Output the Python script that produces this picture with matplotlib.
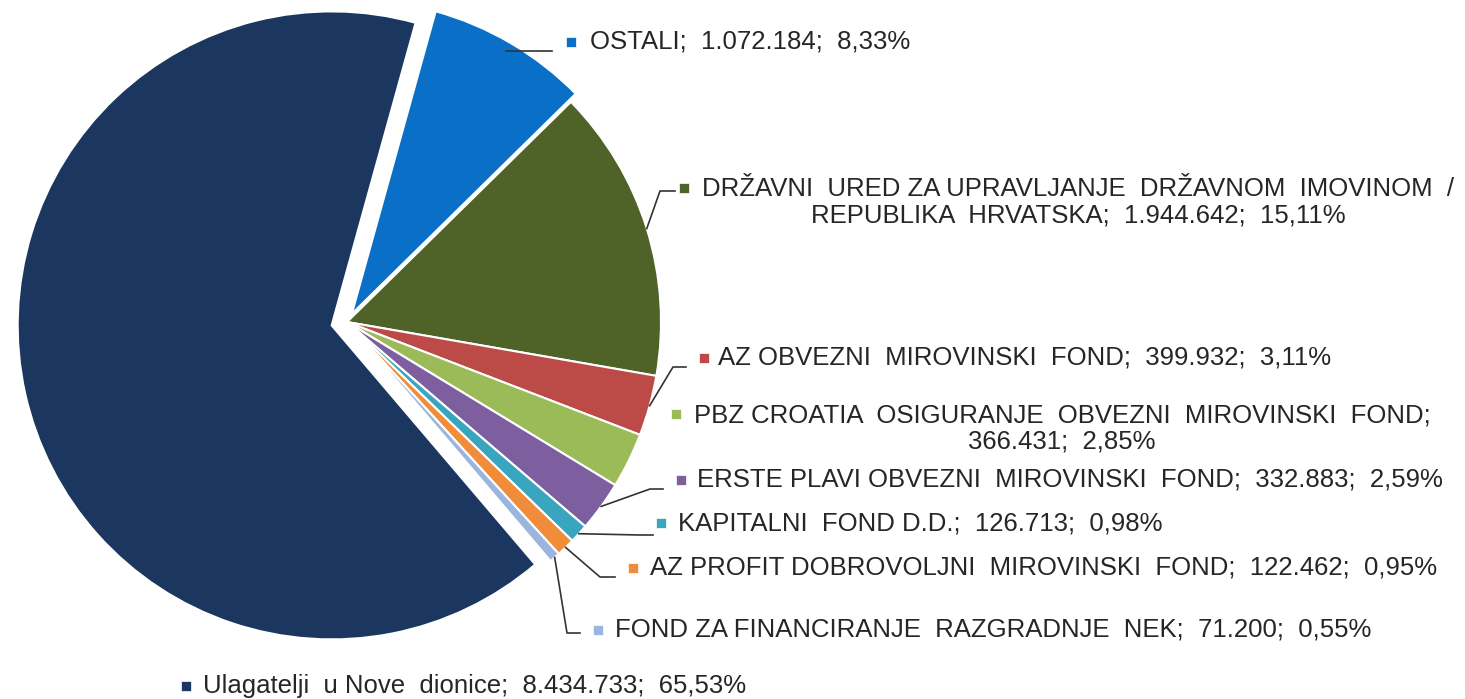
import matplotlib.pyplot as plt
import numpy as np

plt.rcParams['font.family'] = ['Liberation Sans', 'DejaVu Sans']

# data
names = ['OSTALI',
         'DRŽAVNI  URED ZA UPRAVLJANJE  DRŽAVNOM  IMOVINOM  /\nREPUBLIKA  HRVATSKA',
         'AZ OBVEZNI  MIROVINSKI  FOND',
         'PBZ CROATIA  OSIGURANJE  OBVEZNI  MIROVINSKI  FOND',
         'ERSTE PLAVI OBVEZNI  MIROVINSKI  FOND',
         'KAPITALNI  FOND D.D.',
         'AZ PROFIT DOBROVOLJNI  MIROVINSKI  FOND',
         'FOND ZA FINANCIRANJE  RAZGRADNJE  NEK',
         'Ulagatelji  u Nove  dionice']
shares = [1072184, 1944642, 399932, 366431, 332883, 126713, 122462, 71200, 8434733]
colors = ['#0A6FC6', '#4F6228', '#BC4A47', '#9BBB59', '#7D5FA0',
          '#3AA5BF', '#F08C3A', '#9CB5DF', '#1B3760']
explode = [0.03, 0, 0, 0, 0, 0, 0, 0, 0.05]
break_after_value = [False, False, False, True, False, False, False, False, False]

total = sum(shares)

W, H = 1465, 699
fig = plt.figure(figsize=(W / 100, H / 100), dpi=100)

# pie centre (347, 322) px, radius 314 px
cx, cy, r = 347, 322, 314
ax = fig.add_axes([(cx - r) / W, (H - cy - r) / H, 2 * r / W, 2 * r / H])
wedges, _ = ax.pie(shares, colors=colors, startangle=74.5, counterclock=False,
                   explode=explode,
                   wedgeprops=dict(edgecolor='white', linewidth=1.5))
for w in wedges:
    w.set_clip_on(False)
ax.set_xlim(-1, 1)
ax.set_ylim(-1, 1)
ax.set_aspect('equal')
ax.axis('off')

# overlay in pixel coordinates for labels
ov = fig.add_axes([0, 0, 1, 1], facecolor='none')
ov.set_xlim(0, W)
ov.set_ylim(H, 0)
ov.axis('off')


def edge_point(i, frac=1.0):
    w = wedges[i]
    t = np.deg2rad((w.theta1 + w.theta2) / 2)
    x0, y0 = w.center
    x = x0 + frac * np.cos(t)
    y = y0 + frac * np.sin(t)
    return cx + x * r, cy - y * r


FS = 18.5
TC = '#262626'

# label layout: marker x, text x, text y, centred?, leader elbow points
layout = [
    dict(mx=571, tx=590, ty=42, center=False, frac=0.97, path=[(552, None)]),
    dict(mx=684, tx=1078, ty=188, center=True, frac=1.0, path=[(660, 191), (675, 191)]),
    dict(mx=704, tx=718, ty=358, center=False, frac=1.0, path=[(673, 367), (686, 367)]),
    dict(mx=676, tx=1062, ty=414, center=True, frac=None, path=None),
    dict(mx=681, tx=697, ty=480, center=False, frac=1.0, path=[(650, 489), (663, 489)]),
    dict(mx=661, tx=678, ty=523, center=False, frac=1.0, path=[(640, 535), (653, 535)]),
    dict(mx=633, tx=650, ty=568, center=False, frac=1.0, path=[(600, 577), (615, 577)]),
    dict(mx=598, tx=615, ty=630, center=False, frac=1.0, path=[(567, 633), (580, 633)]),
    dict(mx=186, tx=203, ty=686, center=False, frac=None, path=None),
]

for i, lay in enumerate(layout):
    val = f"{shares[i]:,}".replace(',', '.')
    pct = f"{shares[i] / total * 100:.2f}".replace('.', ',')
    sep = ';\n' if break_after_value[i] else ';  '
    txt = f"{names[i]}{sep}{val};  {pct}%"
    if lay['center']:
        ov.text(lay['tx'], lay['ty'] + 14.5, txt, ha='center', va='center', fontsize=FS,
                color=TC, multialignment='center', linespacing=1.13)
    else:
        ov.text(lay['tx'], lay['ty'], txt, ha='left', va='center', fontsize=FS, color=TC)
    ov.plot([lay['mx']], [lay['ty']], marker='s', ms=7.5, color=colors[i], mec='white', mew=0.5)
    if lay['path'] is not None:
        sx, sy = edge_point(i, lay['frac'])
        pts = [(sx, sy)] + [(px, py if py is not None else sy) for px, py in lay['path']]
        xs, ys = zip(*pts)
        ov.plot(xs, ys, color='#333333', lw=1.2)

fig.savefig('out.png', dpi=100, facecolor='white')
